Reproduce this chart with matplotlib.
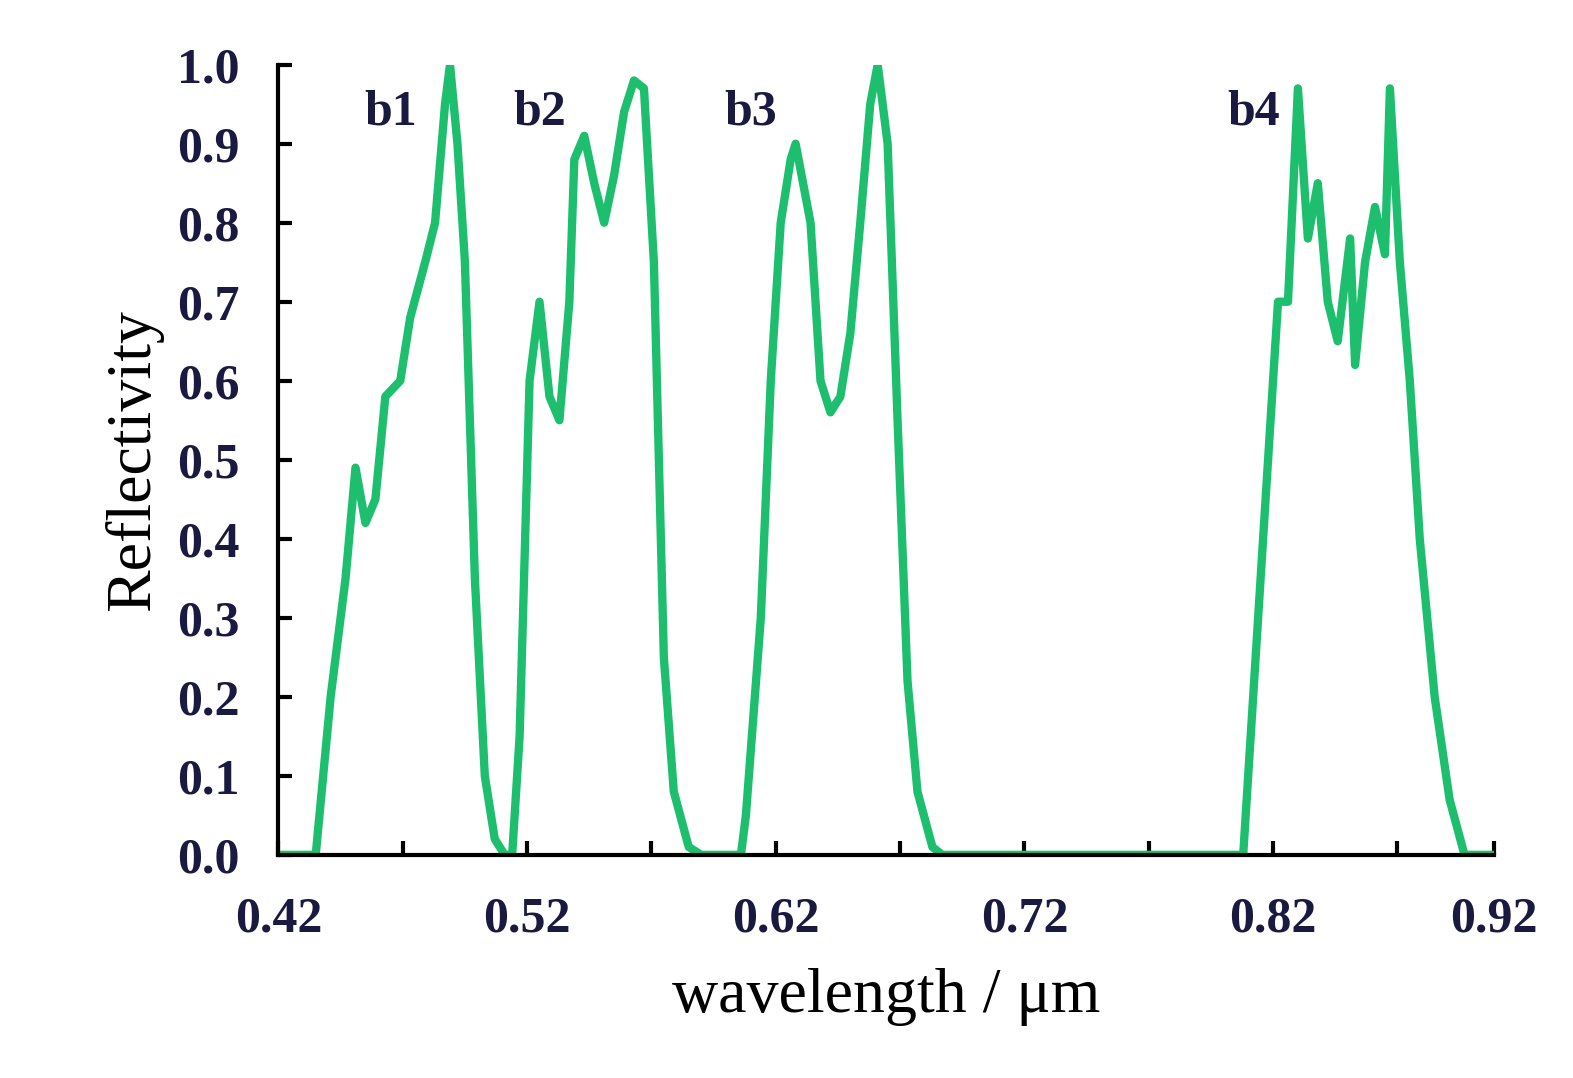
import matplotlib
matplotlib.use("Agg")
import matplotlib.pyplot as plt
import numpy as np

wl = [0.420, 0.435, 0.441, 0.447, 0.451, 0.455, 0.459, 0.463, 0.469, 0.473, 0.479, 0.483, 0.487, 0.489, 0.492, 0.495, 0.497, 0.499, 0.503, 0.507, 0.511,
      0.514, 0.517, 0.521, 0.525, 0.529, 0.533, 0.537, 0.539, 0.543, 0.547, 0.551, 0.555, 0.559, 0.563, 0.567, 0.571, 0.573, 0.575, 0.579, 0.585, 0.590,
      0.606, 0.608, 0.614, 0.618, 0.622, 0.626, 0.628, 0.634, 0.638, 0.642, 0.646, 0.650, 0.654, 0.658, 0.661, 0.665, 0.669, 0.673, 0.677, 0.683, 0.687,
      0.808, 0.814, 0.822, 0.826, 0.830, 0.834, 0.838, 0.842, 0.846, 0.851, 0.853, 0.857, 0.861, 0.865, 0.867, 0.871, 0.875, 0.879, 0.885, 0.891, 0.897, 0.909]
refl = [0.0, 0.0, 0.2, 0.35, 0.49, 0.42, 0.45, 0.58, 0.60, 0.68, 0.75, 0.80, 0.95, 1.0, 0.90, 0.75, 0.55, 0.35, 0.10, 0.02, 0.0,
        0.0, 0.15, 0.60, 0.70, 0.58, 0.55, 0.70, 0.88, 0.91, 0.85, 0.80, 0.86, 0.94, 0.98, 0.97, 0.75, 0.50, 0.25, 0.08, 0.01, 0.0,
        0.0, 0.05, 0.30, 0.60, 0.80, 0.88, 0.90, 0.80, 0.60, 0.56, 0.58, 0.66, 0.80, 0.95, 1.0, 0.90, 0.55, 0.22, 0.08, 0.01, 0.0,
        0.0, 0.30, 0.70, 0.70, 0.97, 0.78, 0.85, 0.70, 0.65, 0.78, 0.62, 0.75, 0.82, 0.76, 0.97, 0.75, 0.60, 0.40, 0.20, 0.07, 0.0, 0.0]
band_labels = ["b1", "b2", "b3", "b4"]
band_label_x = [0.465, 0.525, 0.610, 0.812]
xtick_labels = ["0.42", "0.52", "0.62", "0.72", "0.82", "0.92"]
ytick_vals = [0.0, 0.1, 0.2, 0.3, 0.4, 0.5, 0.6, 0.7, 0.8, 0.9, 1.0]

plt.rcParams['font.family'] = ['Liberation Serif', 'DejaVu Serif']
fig = plt.figure(figsize=(15.73, 10.78), dpi=100)
ax = fig.add_axes([0.177, 0.207, 0.773, 0.733])
ax.plot(wl, refl, color='#1dbf6e', lw=6, solid_joinstyle='round')
ax.set_xlim(0.42, 0.909)
ax.set_ylim(0, 1.0)
xt = [0.42, 0.52, 0.62, 0.72, 0.82, 0.909]
ax.set_xticks(xt)
ax.set_xticks([0.47, 0.57, 0.67, 0.77, 0.87], minor=True)
ax.set_xticklabels(xtick_labels, fontsize=36, fontweight='bold', color='#1a1a40')
ax.set_yticks(ytick_vals)
ax.set_yticklabels([f"{v:.1f}" for v in ytick_vals], fontsize=36, fontweight='bold', color='#1a1a40')
ax.tick_params(which='both', direction='in', width=3, length=10)
ax.tick_params(axis='x', pad=30)
ax.tick_params(axis='y', pad=28)
for s in ['top', 'right']:
    ax.spines[s].set_visible(False)
for s in ['left', 'bottom']:
    ax.spines[s].set_linewidth(3)
ax.set_ylabel("Reflectivity", fontsize=46, labelpad=10)
ax.set_xlabel("wavelength / μm", fontsize=46, labelpad=18)
for t, x in zip(band_labels, band_label_x):
    ax.text(x, 0.94, t, fontsize=36, fontweight='bold', color='#1a1a40', ha='center', va='center')
fig.savefig("out.png", dpi=100)
